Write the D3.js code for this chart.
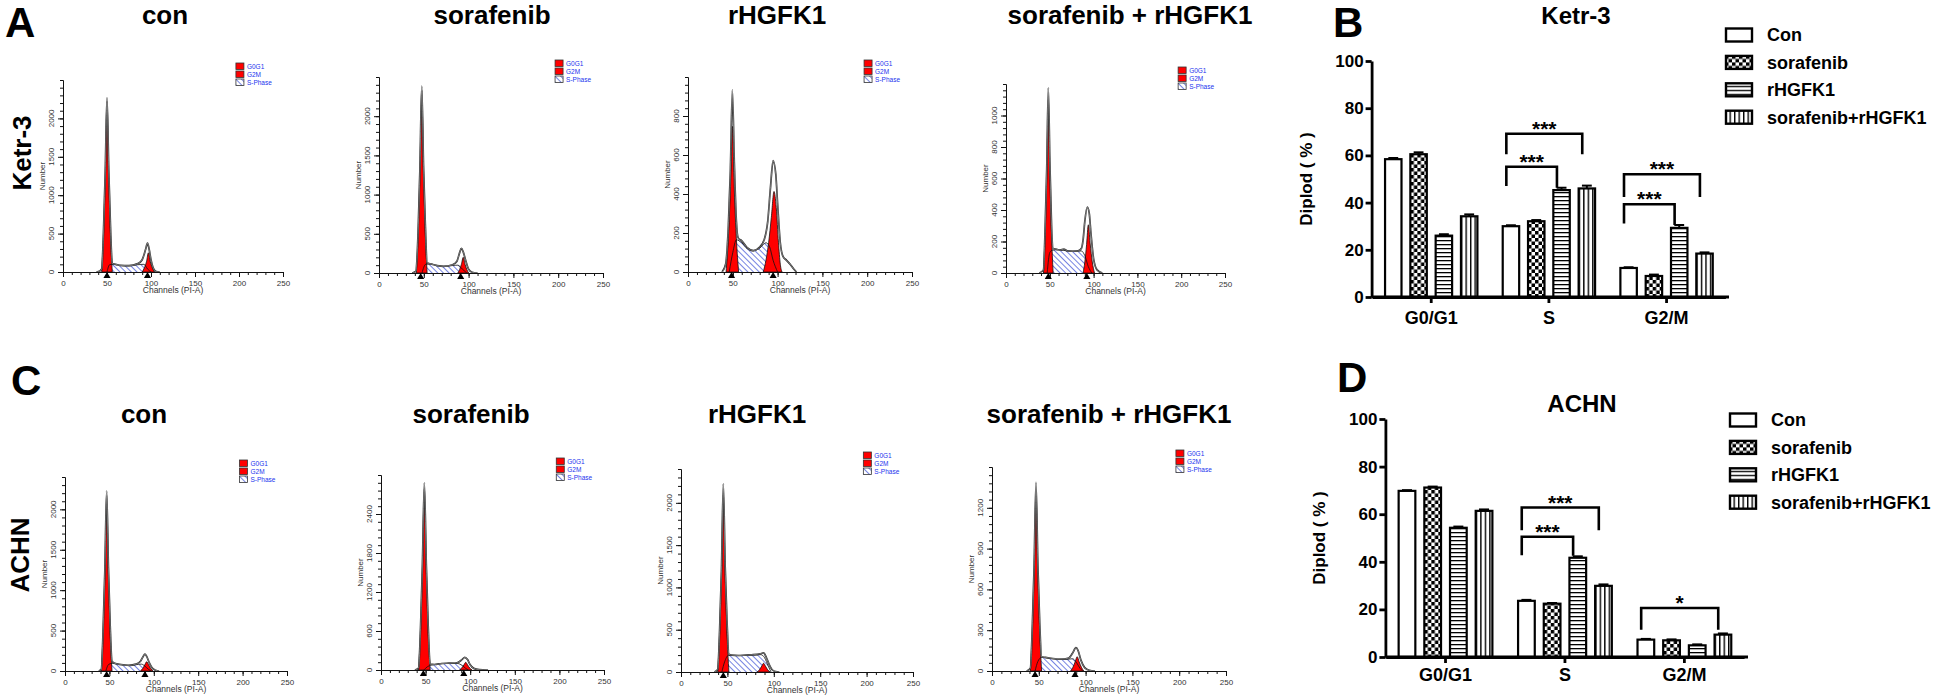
<!DOCTYPE html>
<html>
<head>
<meta charset="utf-8">
<script src="https://cdnjs.cloudflare.com/ajax/libs/d3/7.8.5/d3.min.js"></script>
<style>
  body { margin: 0; background: #fff; }
  svg text { font-family: "Liberation Sans", Arial, sans-serif; }
  .narrow { font-family: "Liberation Sans Narrow", "Arial Narrow", "Liberation Sans", sans-serif; font-stretch: condensed; }
</style>
</head>
<body>
<div id="chart"></div>
<script>
// ---- data ----
const treatments = ["con", "sorafenib", "rHGFK1", "sorafenib + rHGFK1"]
const cellLines = ["Ketr-3", "ACHN"]
const phases = ["G0/G1", "S", "G2/M"]
const seriesNames = ["Con", "sorafenib", "rHGFK1", "sorafenib+rHGFK1"]
const histLegend = ["G0G1", "G2M", "S-Phase"]

// histogram count axis (max, labelled step), one per treatment
const ketrYMax = [2500, 2500, 1000, 1200]
const ketrYStep = [500, 500, 200, 200]
const achnYMax = [2400, 3000, 2400, 1500]
const achnYStep = [500, 600, 500, 300]

// histogram curves, [channel, count]
const ketrTotal = [
  [[38,0],[42,15],[44,40],[46,520],[48,1300],[50,2270],[52,1320],[54,580],[56,110],[60,100],[65,85],[75,82],[85,110],[90,160],[94,300],[96,377],[98,290],[100,160],[103,40],[106,5],[110,0]],
  [[37,0],[41,20],[43.7,540],[45.7,1340],[47.7,2385],[49.7,1360],[51.7,620],[53.7,130],[58,115],[65,95],[72,85],[82,105],[87,150],[90,260],[92,315],[94,270],[97,150],[100,50],[104,10],[110,0]],
  [[38,0],[42,40],[45,230],[47.3,520],[49.5,934],[51.7,560],[54,260],[56,175],[60,160],[66,125],[73,110],[80,128],[85,165],[89,260],[92,430],[95,571],[98,500],[100,350],[103,150],[106,80],[110,60],[114,40],[118,15],[121,0]],
  [[38,0],[42.8,20],[44.6,270],[46.5,660],[48.3,1176],[50.1,700],[52,300],[53.8,155],[58,150],[62,145],[66,152],[70,140],[76,138],[82,140],[86,155],[88,210],[90,330],[92.8,418],[95,380],[97,250],[100,90],[104,20],[110,0]]
]
const ketrG1 = [
  [[44,0],[46,490],[48,1250],[50,2230],[52,1250],[54,490],[56,0]],
  [[41.7,0],[43.7,510],[45.7,1300],[47.7,2330],[49.7,1300],[51.7,510],[53.7,0]],
  [[42.5,0],[45,170],[47.3,420],[49.5,747],[51.7,420],[54,170],[56.5,0]],
  [[42.8,0],[44.6,240],[46.5,620],[48.3,1100],[50.1,620],[52,240],[53.8,0]]
]
const ketrG2 = [
  [[90,0],[92.5,55],[95,140],[97,250],[99,140],[101.5,55],[104,0]],
  [[88,0],[90,45],[92,112],[94,200],[96,112],[98,45],[100,0]],
  [[84,0],[87,60],[90,150],[93,280],[96,413],[98.5,330],[101,150],[103,40],[105,0]],
  [[88,0],[90,70],[92,180],[94,306],[96,190],[98.5,70],[101,0]]
]
const ketrS = [
  [[50,0],[53,95],[58,100],[65,85],[75,80],[85,95],[92,100],[96,40],[100,0]],
  [[48,0],[52,110],[58,115],[65,95],[72,85],[82,95],[88,100],[93,50],[98,0]],
  [[46,0],[50,100],[54,165],[60,150],[66,120],[72,108],[80,122],[87,150],[91,130],[95,60],[100,0]],
  [[47,0],[50,130],[53,145],[60,148],[70,140],[80,138],[86,140],[90,110],[94,40],[98,0]]
]
const ketrMarks = [[50, 96], [46.5, 91.2], [48.6, 95], [48.3, 92.3]]

const achnTotal = [
  [[38,0],[40.9,20],[42.9,500],[44.9,1250],[46.9,2226],[48.9,1280],[50.9,560],[52.9,120],[56,95],[63,80],[72,70],[80,85],[85,120],[88,180],[90,210],[92,180],[95,100],[98,40],[102,10],[106,0]],
  [[38,0],[42.1,30],[44.3,640],[46.4,1600],[48.6,2880],[50.8,1620],[52.9,680],[55.1,90],[60,85],[68,100],[76,105],[85,110],[90,150],[94,195],[97,160],[100,80],[104,25],[110,5],[120,0]],
  [[36,0],[39.6,30],[41.6,490],[43.6,1200],[45.6,2225],[47.6,1250],[49.6,600],[51.6,210],[55,200],[62,195],[70,200],[78,205],[85,215],[89,225],[92,170],[95,90],[98,30],[102,5],[106,0]],
  [[37,0],[41,20],[43,310],[45,770],[47,1387],[49,780],[51,350],[53,105],[57,100],[65,92],[75,88],[82,95],[86,130],[89.7,172],[92,150],[95,80],[99,25],[104,5],[110,0]]
]
const achnG1 = [
  [[40.9,0],[42.9,480],[44.9,1220],[46.9,2170],[48.9,1220],[50.9,480],[52.9,0]],
  [[42.1,0],[44.3,610],[46.4,1560],[48.6,2780],[50.8,1560],[52.9,610],[55.1,0]],
  [[39.6,0],[41.6,460],[43.6,1170],[45.6,2095],[47.6,1170],[49.6,460],[51.6,0]],
  [[41,0],[43,290],[45,740],[47,1320],[49,740],[51,290],[53,0]]
]
const achnG2 = [
  [[85,0],[87.5,30],[90,80],[92,115],[94,80],[96.5,30],[99,0]],
  [[88,0],[90.5,30],[93,80],[95,118],[97,80],[99.5,30],[102,0]],
  [[82,0],[84.5,25],[87,70],[89,103],[91,70],[93.5,25],[96,0]],
  [[84,0],[86.5,28],[89,70],[91,105],[93,70],[95.5,28],[98,0]]
]
const achnS = [
  [[46,0],[49,80],[53,95],[60,82],[70,68],[80,78],[86,85],[90,60],[94,20],[97,0]],
  [[48,0],[52,50],[56,75],[62,88],[70,100],[78,103],[86,100],[91,70],[95,25],[98,0]],
  [[44,0],[47,120],[51,195],[60,195],[70,198],[80,200],[86,205],[90,170],[94,70],[97,0]],
  [[46,0],[49,70],[53,100],[60,95],[70,86],[80,86],[86,90],[90,65],[94,20],[97,0]]
]
const achnMarks = [[46.9, 90], [47.5, 92.8], [45.6], [46, 88.7]]

// diploid percentages, rows = phase, cols = series
const ketrPct = [[58.4, 60.5, 26.0, 34.2], [30.0, 32.1, 45.3, 46.0], [12.3, 8.9, 29.3, 18.4]]
const ketrErr = [[0.5, 0.8, 0.6, 0.8], [0.4, 0.5, 1.0, 1.2], [0.3, 0.6, 1.2, 0.5]]
const achnPct = [[69.8, 71.2, 54.3, 61.4], [23.6, 22.4, 41.7, 29.9], [7.3, 7.0, 4.9, 9.4]]
const achnErr = [[0.3, 0.4, 0.5, 0.6], [0.4, 0.3, 0.6, 0.6], [0.3, 0.4, 0.4, 0.5]]
// [phase, from series, to series, bracket level, left leg end, right leg end, label]
const ketrSig = [[1,0,2,55.2,47,46.3,"***"], [1,0,3,69.2,60.5,60.5,"***"], [2,0,2,39.3,31.1,30.5,"***"], [2,0,3,52,42.4,42.4,"***"]]
const achnSig = [[1,0,2,50.5,42.8,42.5,"***"], [1,0,3,62.8,53.3,53.3,"***"], [2,0,3,20.6,11.5,11.5,"*"]]

// ---- layout ----
const ketrFrames = [[63,283,272,80],[379,603,273,77],[688,912,272,77],[1006,1225,273,84]]
const achnFrames = [[65,287,671,477],[381,604,670,475],[681,913,672,469],[992,1226,671,467]]
const ketrTitleX = [165, 492, 777, 1130]
const achnTitleX = [144, 471, 757, 1109]

const svg = d3.select("#chart")
  .append("svg")
    .attr("width", 1946)
    .attr("height", 697)
    .style("background", "#fff")

const defs = svg.append("defs")
const pat = (id, w, h, draw) => {
  const p = defs.append("pattern").attr("id", id)
    .attr("patternUnits", "userSpaceOnUse").attr("width", w).attr("height", h)
  p.append("rect").attr("width", w).attr("height", h).attr("fill", "#fff")
  draw(p)
  return p
}
pat("hatch", 4, 4, p => p.append("line").attr("x1", 0).attr("y1", 0).attr("x2", 0).attr("y2", 4)
  .attr("stroke", "#3a4fd6").attr("stroke-width", 1.4))
  .attr("patternTransform", "rotate(-45)")
pat("checker", 7, 7, p => {
  p.append("rect").attr("width", 3.5).attr("height", 3.5).attr("fill", "#000")
  p.append("rect").attr("x", 3.5).attr("y", 3.5).attr("width", 3.5).attr("height", 3.5).attr("fill", "#000")
})
pat("hstripe", 4, 4, p => p.append("rect").attr("width", 4).attr("height", 1.3).attr("fill", "#000"))
pat("vstripe", 4.5, 4, p => p.append("rect").attr("width", 1.4).attr("height", 4).attr("fill", "#000"))
const barFills = ["#fff", "url(#checker)", "url(#hstripe)", "url(#vstripe)"]

// ---- flow histograms ----
const hist = (frame, yMax, yStep, total, g1, g2, s, marks) => {
  const [x0, x1, y0, yTop] = frame
  const g = svg.append("g")
  const x = d3.scaleLinear().domain([0, 250]).range([x0, x1])
  const y = d3.scaleLinear().domain([0, yMax]).range([y0, yTop])
  const area = d3.area().x(d => x(d[0])).y0(y0).y1(d => y(d[1])).curve(d3.curveMonotoneX)
  const line = d3.line().x(d => x(d[0])).y(d => y(d[1])).curve(d3.curveMonotoneX)

  g.append("path").attr("d", area(s)).attr("fill", "url(#hatch)")
  g.selectAll(".peak").data([g1, g2]).join("path")
    .attr("d", area).attr("fill", "#ff0000").attr("stroke", "#111").attr("stroke-width", 0.8)
  g.append("path").attr("d", line(s)).attr("fill", "none").attr("stroke", "#111").attr("stroke-width", 0.8)
  g.append("path").attr("d", line(total)).attr("fill", "none").attr("stroke", "#222").attr("stroke-width", 1.7)
  g.append("path").attr("d", line(total)).attr("fill", "none").attr("stroke", "#fff").attr("stroke-width", 0.4)

  // axes
  g.append("g").attr("transform", `translate(${x0},0)`)
    .call(d3.axisLeft(y).tickValues(d3.range(0, yMax + 1, yStep / 5)).tickSize(3).tickSizeOuter(0).tickFormat(""))
  g.append("g").attr("transform", `translate(${x0},0)`)
    .call(d3.axisLeft(y).tickValues(d3.range(0, yMax, yStep)).tickSize(5).tickSizeOuter(0).tickFormat(""))
  g.append("g").attr("transform", `translate(0,${y0})`)
    .call(d3.axisBottom(x).tickValues(d3.range(0, 251, 10)).tickSize(3).tickSizeOuter(0).tickFormat(""))
  const xa = g.append("g").attr("transform", `translate(0,${y0})`)
    .call(d3.axisBottom(x).tickValues(d3.range(0, 251, 50)).tickSize(5).tickSizeOuter(0))
  xa.selectAll("text").attr("class", "narrow").style("font-size", "8px").attr("fill", "#333")
  g.selectAll(".domain, .tick line").attr("stroke", "#111")

  g.selectAll(".ylab").data(d3.range(0, yMax, yStep)).join("text")
    .attr("class", "narrow")
    .attr("transform", v => `translate(${x0 - 9},${y(v)}) rotate(-90)`)
    .attr("text-anchor", "middle")
    .style("font-size", "8px").attr("fill", "#333")
    .text(v => v)
  g.append("text").attr("class", "narrow")
    .attr("transform", `translate(${x0 - 18},${(y0 + yTop) / 2}) rotate(-90)`)
    .attr("text-anchor", "middle").style("font-size", "8px").attr("fill", "#333")
    .text("Number")
  g.append("text").attr("class", "narrow")
    .attr("x", (x0 + x1) / 2).attr("y", y0 + 21)
    .attr("text-anchor", "middle").style("font-size", "8.5px").attr("fill", "#333")
    .text("Channels (PI-A)")

  // peak markers
  g.selectAll(".mark").data(marks).join("path")
    .attr("d", d3.symbol(d3.symbolTriangle).size(22))
    .attr("transform", c => `translate(${x(c)},${y0 + 4})`)
    .attr("fill", "#000")

  // legend
  const lg = g.append("g").attr("transform", `translate(${x0 + 0.786 * (x1 - x0)},${yTop - 17})`)
  lg.selectAll("rect").data(histLegend).join("rect")
    .attr("x", 0).attr("y", (d, i) => i * 8).attr("width", 8).attr("height", 6.5)
    .attr("fill", (d, i) => i < 2 ? "#ff0000" : "url(#hatch)")
    .attr("stroke", "#333").attr("stroke-width", 0.8)
  lg.selectAll("text").data(histLegend).join("text")
    .attr("class", "narrow")
    .attr("x", 11).attr("y", (d, i) => i * 8 + 5.5)
    .style("font-size", "6.5px").attr("fill", "#2233ee")
    .text(d => d)
}

treatments.forEach((t, i) => {
  hist(ketrFrames[i], ketrYMax[i], ketrYStep[i], ketrTotal[i], ketrG1[i], ketrG2[i], ketrS[i], ketrMarks[i])
  hist(achnFrames[i], achnYMax[i], achnYStep[i], achnTotal[i], achnG1[i], achnG2[i], achnS[i], achnMarks[i])
  svg.append("text").attr("x", ketrTitleX[i]).attr("y", 24).attr("text-anchor", "middle")
    .style("font-size", "26px").style("font-weight", "bold").text(t)
  svg.append("text").attr("x", achnTitleX[i]).attr("y", 423).attr("text-anchor", "middle")
    .style("font-size", "26px").style("font-weight", "bold").text(t)
})

// row labels and panel letters
svg.append("text").attr("transform", "translate(31,153) rotate(-90)").attr("text-anchor", "middle")
  .style("font-size", "26px").style("font-weight", "bold").text(cellLines[0])
svg.append("text").attr("transform", "translate(29,555) rotate(-90)").attr("text-anchor", "middle")
  .style("font-size", "26px").style("font-weight", "bold").text(cellLines[1])
const letters = [["A", 5, 37], ["B", 1333, 37], ["C", 11, 395], ["D", 1337, 392]]
svg.selectAll(".letter").data(letters).join("text")
  .attr("x", d => d[1]).attr("y", d => d[2])
  .style("font-size", "42px").style("font-weight", "bold")
  .text(d => d[0])

// ---- bar charts ----
const bars = (f, title, pct, err, sig) => {
  const g = svg.append("g")
  const x = d3.scaleBand().domain(phases).range([f.g0, f.g1])
  const xs = d3.scaleBand().domain(seriesNames).range([0, x.bandwidth()]).paddingInner(0.35).paddingOuter(0.5)
  const y = d3.scaleLinear().domain([0, 100]).range([f.y0, f.yTop])
  const bw = xs.bandwidth()
  const rows = phases.flatMap((p, pi) => seriesNames.map((s, si) => ({ p, s, si, v: pct[pi][si], e: err[pi][si] })))

  const bar = g.selectAll(".bar").data(rows).join("g")
    .attr("transform", d => `translate(${x(d.p) + xs(d.s)},0)`)
  bar.append("line")
    .attr("x1", bw / 2).attr("x2", bw / 2)
    .attr("y1", d => y(d.v)).attr("y2", d => y(d.v + d.e))
    .attr("stroke", "#000").attr("stroke-width", 2)
  bar.append("line")
    .attr("x1", bw * 0.2).attr("x2", bw * 0.8)
    .attr("y1", d => y(d.v + d.e)).attr("y2", d => y(d.v + d.e))
    .attr("stroke", "#000").attr("stroke-width", 2)
  bar.append("rect")
    .attr("x", 0).attr("width", bw)
    .attr("y", d => y(d.v)).attr("height", d => f.y0 - y(d.v))
    .attr("fill", d => barFills[d.si]).attr("stroke", "#000").attr("stroke-width", 2.2)

  // axes
  const ya = g.append("g").attr("transform", `translate(${f.x0},0)`)
    .call(d3.axisLeft(y).tickValues(d3.range(0, 101, 20)).tickSize(6).tickSizeOuter(0).tickPadding(2))
  const xa = g.append("g").attr("transform", `translate(0,${f.y0})`)
    .call(d3.axisBottom(x).tickSize(6).tickSizeOuter(0).tickPadding(f.catPad))
  g.append("line").attr("x1", f.x0).attr("x2", f.x1).attr("y1", f.y0).attr("y2", f.y0)
    .attr("stroke", "#000").attr("stroke-width", 2.8)
  g.selectAll(".domain, .tick line").attr("stroke", "#000").attr("stroke-width", 2.8)
  ya.selectAll("text").style("font-size", "17px").style("font-weight", "bold").attr("fill", "#000")
  xa.selectAll("text").style("font-size", "18px").style("font-weight", "bold").attr("fill", "#000")

  g.append("text")
    .attr("transform", `translate(${f.x0 - 60},${(f.y0 + f.yTop) / 2}) rotate(-90)`)
    .attr("text-anchor", "middle")
    .style("font-size", "17px").style("font-weight", "bold")
    .text("Diplod ( % )")
  g.append("text")
    .attr("x", f.titleX).attr("y", f.titleY).attr("text-anchor", "middle")
    .style("font-size", "24px").style("font-weight", "bold")
    .text(title)

  // significance brackets
  const legX = (p, si) => x(phases[p]) + xs(seriesNames[si]) + bw * 0.22
  sig.forEach(([p, a, b, lvl, la, lb, lab]) => {
    g.append("path")
      .attr("d", `M${legX(p, a)},${y(la)}V${y(lvl)}H${legX(p, b)}V${y(lb)}`)
      .attr("fill", "none").attr("stroke", "#000").attr("stroke-width", 2.6)
    g.append("text")
      .attr("x", (legX(p, a) + legX(p, b)) / 2).attr("y", y(lvl) + 2)
      .attr("text-anchor", "middle")
      .style("font-size", "21px").style("font-weight", "bold")
      .text(lab)
  })

  // legend
  const lg = g.append("g").attr("transform", `translate(${f.legX},${f.legY})`)
  const item = lg.selectAll("g").data(seriesNames).join("g")
    .attr("transform", (d, i) => `translate(0,${i * 27.4})`)
  item.append("rect").attr("x", 1).attr("y", -6.5).attr("width", 26).attr("height", 13)
    .attr("fill", (d, i) => barFills[i]).attr("stroke", "#000").attr("stroke-width", 2.4)
  item.append("text")
    .attr("x", 42).attr("dy", "0.36em")
    .style("font-size", "18px").style("font-weight", "bold")
    .text(d => d)
}

bars({ x0: 1371.6, x1: 1729, y0: 297, yTop: 61, g0: 1372.4, g1: 1725.4, catPad: 8, titleX: 1576, titleY: 24, legX: 1725, legY: 35 },
  cellLines[0], ketrPct, ketrErr, ketrSig)
bars({ x0: 1385.4, x1: 1748, y0: 657, yTop: 419, g0: 1385.8, g1: 1744.1, catPad: 5, titleX: 1582, titleY: 412, legX: 1729, legY: 420 },
  cellLines[1], achnPct, achnErr, achnSig)
</script>
</body>
</html>
